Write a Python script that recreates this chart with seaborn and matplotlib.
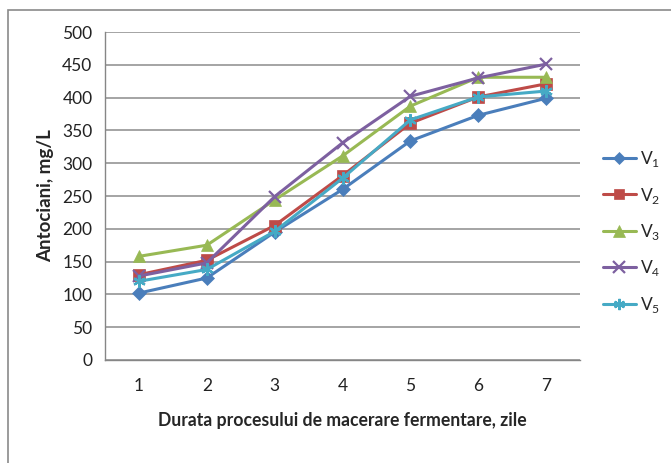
import matplotlib
matplotlib.use("Agg")
import matplotlib.pyplot as plt
import seaborn as sns
import pandas as pd
from matplotlib.patches import Rectangle
from matplotlib.lines import Line2D

days = [1, 2, 3, 4, 5, 6, 7]
series_names = ["V1", "V2", "V3", "V4", "V5"]
v1 = [102, 125, 195, 260, 334, 373, 399]
v2 = [130, 152, 205, 281, 361, 401, 421]
v3 = [158, 175, 244, 311, 387, 431, 431]
v4 = [128, 148, 249, 331, 402, 430, 451]
v5 = [120, 138, 196, 277, 366, 401, 410]
y_ticks = [0, 50, 100, 150, 200, 250, 300, 350, 400, 450, 500]
legend_labels = ["V$_1$", "V$_2$", "V$_3$", "V$_4$", "V$_5$"]

colors = ["#4A7EBB", "#BE4B48", "#98B954", "#7D60A0", "#46AAC5"]
markers = ["D", "s", "^", "x", (6, 2, 0)]
msizes = [7, 8, 9, 9, 9]

df = pd.DataFrame({
    "zi": days * 5,
    "val": v1 + v2 + v3 + v4 + v5,
    "serie": sum([[n] * len(days) for n in series_names], []),
})

sns.set_style("white")
plt.rcParams["font.family"] = ["Lato", "DejaVu Sans"]
plt.rcParams["mathtext.fontset"] = "custom"
plt.rcParams["mathtext.rm"] = "Lato"

fig = plt.figure(figsize=(6.71, 4.63), dpi=100)
ax = fig.add_axes([105 / 671, 1 - 360 / 463, 475 / 671, 328 / 463])

def mew(m):
    return 1.6 if m == "x" or isinstance(m, tuple) else 0.5

for name, c, m, ms in zip(series_names, colors, markers, msizes):
    sub = df[df["serie"] == name]
    sns.lineplot(data=sub, x="zi", y="val", ax=ax, color=c, marker=m,
                 markersize=ms, linewidth=2.2, markeredgecolor=c,
                 markeredgewidth=mew(m), legend=False)

ax.set_xlim(0.5, 7.5)
ax.set_ylim(0, 500)
ax.set_yticks(y_ticks)
ax.set_xticks(days)
ax.set_xticks([d + 0.5 for d in [0] + days], minor=True)
ax.tick_params(axis="x", which="major", length=0, pad=13, labelsize=12.5, colors="#222222")
ax.tick_params(axis="x", which="minor", length=6, width=1, color="#868686", direction="out")
ax.tick_params(axis="y", length=6, width=1, color="#868686", direction="out", pad=3,
               labelsize=12.5, labelcolor="#222222")
ax.yaxis.grid(True, color="#8c8c8c", linewidth=1.1)
ax.set_axisbelow(True)
for s in ["top", "right"]:
    ax.spines[s].set_visible(False)
for s in ["left", "bottom"]:
    ax.spines[s].set_color("#868686")
    ax.spines[s].set_linewidth(1)

ax.set_xlabel("Durata procesului de macerare fermentare, zile", fontsize=12.7,
              fontweight="bold", labelpad=13)
ax.set_ylabel("Antociani, mg/L", fontsize=13.5, fontweight="bold", labelpad=6)

handles = [Line2D([], [], color=c, marker=m, markersize=ms * 0.9, linewidth=2.2,
                  markeredgecolor=c, markeredgewidth=mew(m))
           for c, m, ms in zip(colors, markers, msizes)]
fig.legend(handles, legend_labels, loc="center left",
           bbox_to_anchor=(603 / 671, 1 - 232 / 463), frameon=False,
           borderaxespad=0, borderpad=0,
           fontsize=12.5, handlelength=1.9, handletextpad=0.25, labelspacing=0.95)

fig.patches.append(Rectangle((8 / 671, -0.2), 2, (463 - 10) / 463 + 0.2,
                             transform=fig.transFigure, fill=False,
                             edgecolor="#8a8a8a", linewidth=1.2))

fig.savefig("out.png", dpi=100)
